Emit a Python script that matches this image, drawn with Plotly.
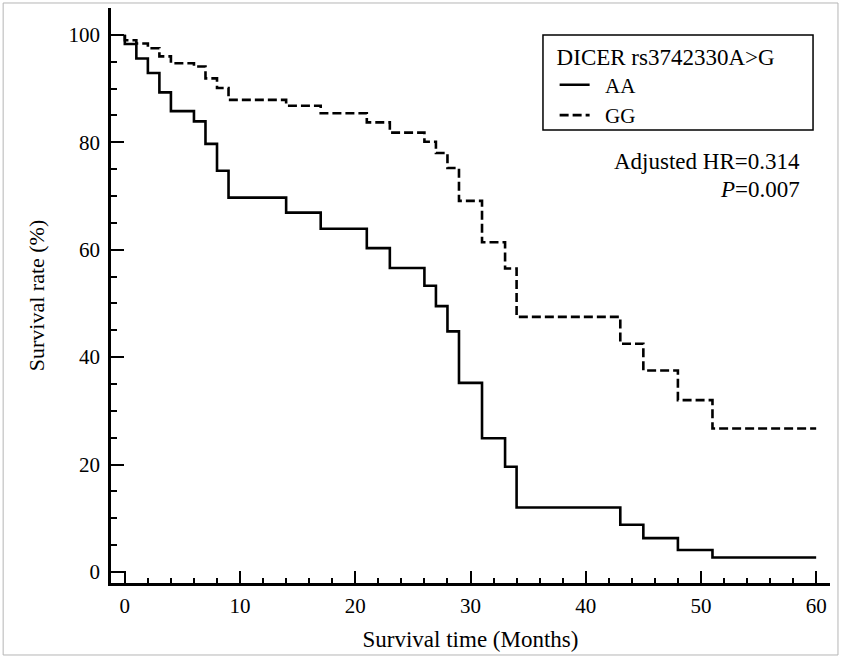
import plotly.graph_objects as go

# Kaplan-Meier step data (months, survival %)
aa_time = [0, 0, 1, 2, 3, 4, 6, 7, 8, 9, 14, 17, 21, 23, 26, 27, 28, 29, 31, 33, 34, 43, 45, 48, 51, 60]
aa_surv = [100, 98.3, 95.6, 92.9, 89.3, 85.8, 83.9, 79.7, 74.7, 69.7, 66.9, 63.9, 60.3, 56.6, 53.3, 49.5, 44.8, 35.2, 24.9, 19.6, 12.0, 8.8, 6.3, 4.1, 2.7, 2.7]

gg_time = [0, 0, 1, 2, 3, 4, 6, 7, 8, 9, 14, 17, 21, 23, 26, 27, 28, 29, 31, 33, 34, 43, 45, 48, 51, 60]
gg_surv = [100, 99.0, 98.4, 97.5, 96.0, 94.7, 94.1, 91.9, 90.1, 87.9, 86.8, 85.4, 83.7, 81.8, 80.1, 78.0, 75.2, 69.1, 61.4, 56.5, 47.5, 42.5, 37.5, 32.0, 26.7, 26.7]

x_ticks = [0, 10, 20, 30, 40, 50, 60]
y_ticks = [0, 20, 40, 60, 80, 100]

legend_title = "DICER rs3742330A&gt;G"
series_names = ["AA", "GG"]
hr_text = "Adjusted HR=0.314"
p_text = "<i>P</i>=0.007"

FONT = "Liberation Serif, Times New Roman, serif"

fig = go.Figure()
fig.add_trace(go.Scatter(x=aa_time, y=aa_surv, mode="lines", line_shape="hv",
                         line=dict(color="black", width=2.6), name="&nbsp;&nbsp;" + series_names[0]))
fig.add_trace(go.Scatter(x=gg_time, y=gg_surv, mode="lines", line_shape="hv",
                         line=dict(color="black", width=2.6, dash="9px,4px"), name="&nbsp;&nbsp;" + series_names[1]))

fig.update_layout(
    width=843, height=662,
    margin=dict(l=111, r=13, t=8, b=79, autoexpand=False),
    paper_bgcolor="white", plot_bgcolor="white",
    font=dict(family=FONT, color="black", size=21),
    showlegend=True,
    legend=dict(x=0.617, y=0.9535, xanchor="left", yanchor="top",
                bgcolor="rgba(0,0,0,0)", borderwidth=0,
                font=dict(family=FONT, size=21, color="black"),
                title=dict(text=legend_title, font=dict(family=FONT, size=23, color="black")),
                itemwidth=30, tracegroupgap=0),
    xaxis=dict(range=[-1.2, 61.2], tickmode="linear", tick0=x_ticks[0], dtick=x_ticks[1] - x_ticks[0],
               showline=True, linecolor="black", linewidth=2.5, automargin=False,
               ticks="inside", ticklen=12, tickwidth=1.5, tickcolor="black",
               minor=dict(dtick=2, tick0=0, ticks="inside", ticklen=5, tickwidth=1.5, tickcolor="black", showgrid=False),
               showgrid=False, zeroline=False, ticklabelstandoff=2,
               title=dict(text="Survival time (Months)", font=dict(size=23), standoff=14)),
    yaxis=dict(range=[-2.05, 105], tickmode="linear", tick0=y_ticks[0], dtick=y_ticks[1] - y_ticks[0],
               showline=True, linecolor="black", linewidth=2.5, automargin=False,
               ticks="inside", ticklen=13, tickwidth=1.5, tickcolor="black",
               minor=dict(dtick=5, tick0=0, ticks="inside", ticklen=6, tickwidth=1.5, tickcolor="black", showgrid=False),
               showgrid=False, zeroline=False, ticklabelstandoff=4,
               title=dict(text="Survival rate (%)", font=dict(size=22), standoff=18)),
    shapes=[
        dict(type="rect", xref="paper", yref="paper", x0=0.6008, x1=0.9764, y0=0.7878, y1=0.9530,
             line=dict(color="black", width=1.5), fillcolor="rgba(0,0,0,0)"),
        dict(type="rect", xref="paper", yref="paper", x0=-0.150, x1=1.0111, y0=-0.1252, y1=1.0087,
             line=dict(color="#b5b5b5", width=1), fillcolor="rgba(0,0,0,0)", layer="below"),
    ],
    annotations=[
        dict(text=hr_text, xref="paper", yref="paper", x=0.961, y=0.7322, xanchor="right", yanchor="middle",
             showarrow=False, font=dict(family=FONT, size=23)),
        dict(text=p_text, xref="paper", yref="paper", x=0.961, y=0.6835, xanchor="right", yanchor="middle",
             showarrow=False, font=dict(family=FONT, size=23)),
    ],
)

fig.write_html("out.html", config={"displayModeBar": False},
               post_script="document.body.style.margin='0';")
